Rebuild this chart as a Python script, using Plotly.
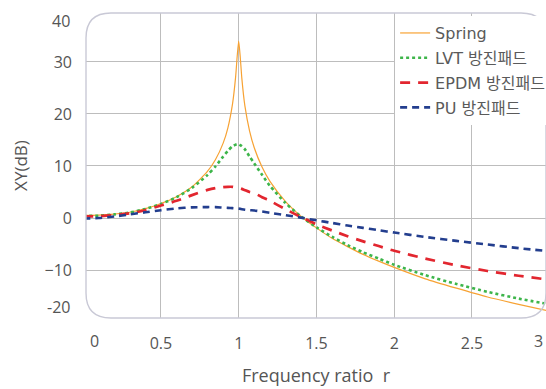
import plotly.graph_objects as go

# Frequency ratio r (x) shared by all series
r = [0.0, 0.1, 0.2, 0.3, 0.4, 0.5, 0.6, 0.7, 0.8, 0.85, 0.9, 0.93, 0.96, 0.98, 0.99, 1.0,
     1.01, 1.02, 1.04, 1.07, 1.1, 1.15, 1.2, 1.3, 1.4, 1.5, 1.6, 1.7, 1.8, 1.9, 2.0,
     2.2, 2.4, 2.6, 2.8, 3.0]

spring = [0.5, 0.55, 0.75, 1.1, 1.8, 2.8, 4.1, 6.0, 9.0, 11.2, 14.4, 17.3, 21.9, 27.1, 31.0, 34.0,
          30.9, 26.9, 21.5, 16.7, 13.5, 9.8, 7.1, 3.2, 0.35, -1.9, -3.9, -5.5, -7.0, -8.3, -9.5,
          -11.7, -13.5, -15.2, -16.6, -17.9]

lvt = [0.4, 0.45, 0.7, 1.05, 1.75, 2.7, 4.0, 5.8, 8.3, 9.9, 11.8, 12.9, 13.8, 14.1, 14.2, 14.2,
       14.0, 13.8, 13.2, 11.8, 10.5, 8.3, 6.2, 2.9, 0.3, -1.8, -3.6, -5.2, -6.6, -7.8, -9.0,
       -11.0, -12.7, -14.2, -15.5, -16.6]

epdm = [0.3, 0.35, 0.55, 0.9, 1.5, 2.4, 3.3, 4.4, 5.4, 5.75, 5.95, 6.0, 6.0, 5.9, 5.85, 5.8,
        5.7, 5.6, 5.35, 5.0, 4.8, 4.0, 3.3, 1.7, 0.2, -1.2, -2.4, -3.5, -4.5, -5.4, -6.3,
        -7.8, -9.1, -10.2, -11.1, -11.9]

pu = [-0.1, 0.0, 0.3, 0.7, 1.1, 1.5, 1.85, 2.05, 2.1, 2.1, 2.0, 1.95, 1.9, 1.85, 1.82, 1.8,
      1.75, 1.7, 1.6, 1.5, 1.45, 1.25, 1.0, 0.55, 0.07, -0.45, -0.95, -1.45, -1.9, -2.35, -2.8,
      -3.65, -4.4, -5.1, -5.8, -6.4]

names = ["Spring", "LVT 방진패드", "EPDM 방진패드", "PU 방진패드"]
colors = ["#F7A233", "#3DB54A", "#E2262F", "#233E8E"]

x_ticks = [0.5, 1, 1.5, 2, 2.5]
y_ticks = [-10, 0, 10, 20, 30]

fig = go.Figure()
series = [spring, lvt, epdm, pu]
styles = [dict(width=1.2, dash="solid"),
          dict(width=2.6, dash="dot"),
          dict(width=2.7, dash="10px,8px"),
          dict(width=2.6, dash="7px,5px")]
for i, (ys, nm, col, st) in enumerate(zip(series, names, colors, styles)):
    fig.add_trace(go.Scatter(x=r, y=ys, mode="lines", name=nm,
                             line=dict(color=col, shape="spline", smoothing=0.6, **st),
                             legendgroup=str(i)))

tick_font = dict(family="Open Sans, Liberation Sans, sans-serif", size=16, color="#555555")

fig.update_xaxes(range=[0.018, 2.976], tickvals=x_ticks, ticktext=["0.5", "1", "1.5", "2", "2.5"],
                 showgrid=True, gridcolor="#BDBDBD", gridwidth=1, zeroline=False, showline=False,
                 ticks="", ticklabelstandoff=14, tickfont=tick_font,
                 title=dict(text="Frequency ratio  r", font=dict(family="Open Sans, sans-serif", size=18, color="#555555"),
                            standoff=16))
fig.update_yaxes(range=[-19.23, 39.42], tickvals=y_ticks,
                 showgrid=True, gridcolor="#BDBDBD", gridwidth=1, zeroline=False, showline=False,
                 ticks="", ticklabelstandoff=13, tickfont=tick_font,
                 title=dict(text="XY(dB)", font=dict(family="Open Sans, sans-serif", size=17, color="#555555"),
                            standoff=12))

# rounded plot-area border (paper coords)
rx, ry = 25 / 460, 25 / 305
path = (f"M {rx},0 L {1-rx},0 Q 1,0 1,{ry} L 1,{1-ry} Q 1,1 {1-rx},1 "
        f"L {rx},1 Q 0,1 0,{1-ry} L 0,{ry} Q 0,0 {rx},0 Z")
fig.add_shape(type="path", path=path, xref="paper", yref="paper",
              line=dict(color="#C9C9D6", width=1.4), layer="above")

# end tick labels squeezed inside the frame as in the reference
for txt, xx, yy, xa in [("40", -0.0304, 0.974, "right"), ("-20", -0.0304, 0.036, "right"),
                        ("0", 0.0174, -0.0754, "center"), ("3", 0.983, -0.0754, "center")]:
    fig.add_annotation(text=txt, x=xx, y=yy, xref="paper", yref="paper", showarrow=False,
                       xanchor=xa, yanchor="middle", font=tick_font)

fig.update_layout(
    width=546, height=389,
    margin=dict(l=86, r=0, t=13, b=71, autoexpand=False),
    paper_bgcolor="white", plot_bgcolor="white",
    legend=dict(x=0.672, y=0.99, xanchor="left", yanchor="top", bgcolor="white",
                font=dict(family="'DejaVu Sans', 'Noto Sans CJK KR', sans-serif", size=16, color="#5A5A5A"),
                traceorder="grouped", tracegroupgap=1, itemwidth=30),
    showlegend=True,
)

fig.write_html("out.html", config={"displayModeBar": False},
               post_script="document.body.style.margin='0';document.body.style.overflow='hidden';")
